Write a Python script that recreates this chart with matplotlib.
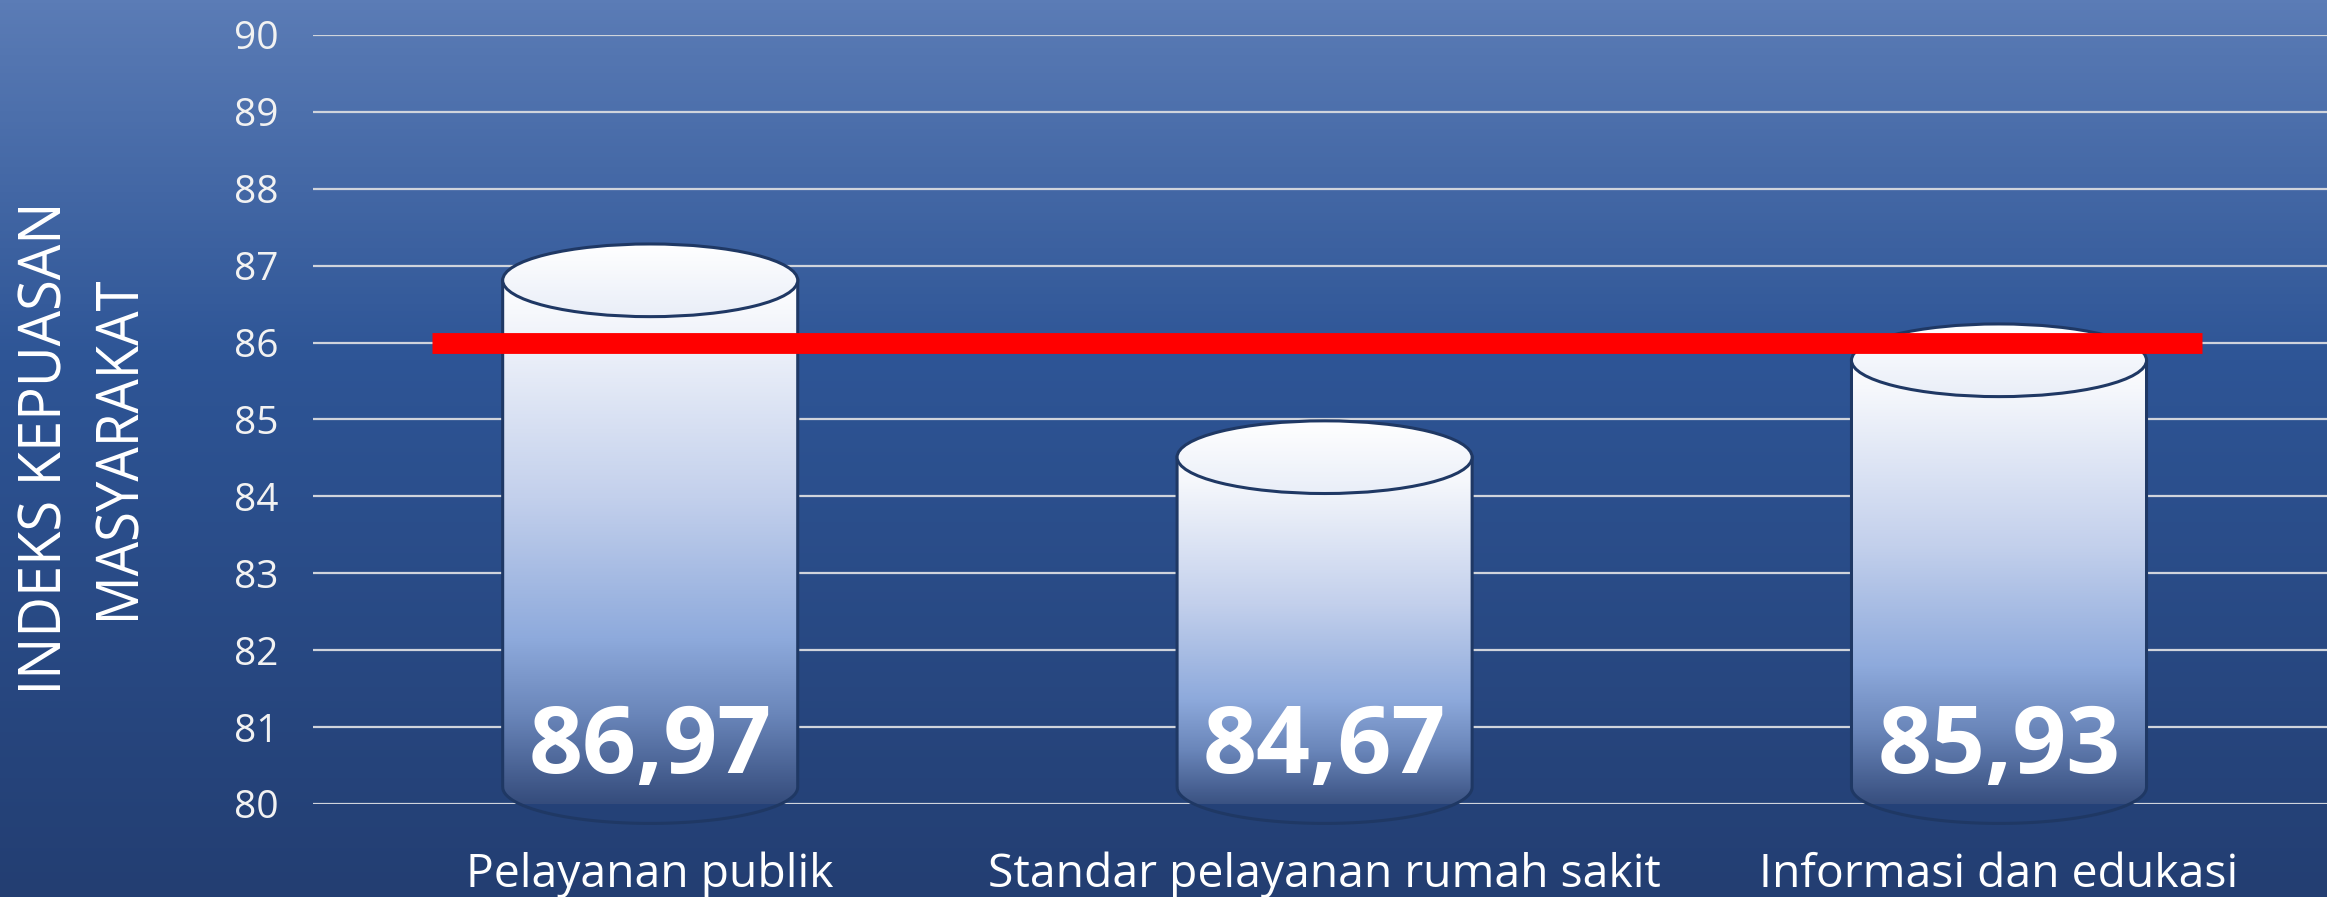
import numpy as np
import matplotlib.pyplot as plt
from matplotlib.colors import LinearSegmentedColormap
from matplotlib.patches import Ellipse, PathPatch
from matplotlib.path import Path
from matplotlib.textpath import TextPath
from matplotlib.font_manager import FontProperties
from matplotlib.transforms import blended_transform_factory, Affine2D, IdentityTransform

# data
categories = ['Pelayanan publik', 'Standar pelayanan rumah sakit', 'Informasi dan edukasi']
values = [86.97, 84.67, 85.93]
value_labels = ['86,97', '84,67', '85,93']
target = 86
y_ticks = list(range(80, 91))
y_title = ['INDEKS KEPUASAN', 'MASYARAKAT']

W, H = 2327, 897
fig = plt.figure(figsize=(W / 100, H / 100), dpi=100)

# background gradient
bg = fig.add_axes([0, 0, 1, 1], zorder=-10)
bg_cmap = LinearSegmentedColormap.from_list(
    'bg', [(0, '#5b7cb6'), (0.4, '#2e5596'), (1, '#233e72')])
bg.imshow(np.linspace(0, 1, 256).reshape(-1, 1), aspect='auto', cmap=bg_cmap,
          extent=[0, 1, 0, 1])
bg.set_axis_off()

ax = fig.add_axes([313 / W, 93 / H, 3 * 674.4 / W, 769 / H])
ax.set_facecolor('none')
for s in ax.spines.values():
    s.set_visible(False)

ymin, ymax = y_ticks[0], y_ticks[-1]
x = np.arange(len(categories))

body_cmap = LinearSegmentedColormap.from_list(
    'body', [(0, '#ffffff'), (0.4, '#c3d0ec'), (0.66, '#8eaadc'),
             (0.8, '#6a86ba'), (1, '#2a406f')])
top_cmap = LinearSegmentedColormap.from_list('top', ['#ffffff', '#e9eef8'])
grad = np.linspace(0, 1, 256).reshape(-1, 1)

half = 0.4375 / 2
ry = 0.945 / 2
edge = '#1f3864'

for i, v in zip(x, values):
    top_c = v - 0.16
    bot_c = ymin + 0.22
    t = np.linspace(np.pi, 2 * np.pi, 60)
    xs = list(i + half * np.cos(t)) + [i + half, i - half, i - half]
    ys = list(bot_c + ry * np.sin(t)) + [top_c, top_c, bot_c]
    body = PathPatch(Path(np.column_stack([xs, ys]), closed=False),
                     facecolor='none', edgecolor=edge, lw=2.2, zorder=3,
                     clip_on=False)
    ax.add_patch(body)
    im = ax.imshow(grad, aspect='auto', cmap=body_cmap, zorder=2,
                   extent=[i - half, i + half, bot_c - ry, top_c])
    im.set_clip_path(body)
    im.set_clip_box(None)

    top = Ellipse((i, top_c), 2 * half, 2 * ry, facecolor='none',
                  edgecolor=edge, lw=2.2, zorder=4)
    ax.add_patch(top)
    im2 = ax.imshow(grad, aspect='auto', cmap=top_cmap, zorder=3.5,
                    extent=[i - half, i + half, top_c - ry, top_c + ry])
    im2.set_clip_path(top)

# target line
ax.plot([x[0] - 0.3235, x[-1] + 0.301], [target, target], color='#ff0000',
        lw=15, solid_capstyle='butt', zorder=6)

# value labels
for i, lab in zip(x, value_labels):
    ax.text(i, ymin + 0.40, lab, ha='center', va='baseline', color='white',
            fontsize=68, fontweight='bold', family='Open Sans', zorder=7)

# category labels
tr = blended_transform_factory(ax.transData, fig.transFigure)
for i, c in zip(x, categories):
    ax.text(i, 10 / H, c, transform=tr, ha='center', va='baseline',
            color='white', fontsize=33.3, family='Open Sans')

ax.set_xlim(-0.5, 2.5)
ax.set_ylim(ymin, ymax)
ax.set_xticks([])
ax.set_yticks(y_ticks)
ax.tick_params(axis='y', length=0, pad=25, labelsize=28, labelcolor='#f2f2f2')
for lab in ax.get_yticklabels():
    lab.set_family('Open Sans')
ax.grid(axis='y', color='#d0d4dc', lw=1.6, zorder=0)
ax.set_axisbelow(True)

# condensed, rotated axis title (drawn as text paths, pixel units)
fp = FontProperties(family='Open Sans')
cap = 42           # cap height in px
lengths = [482, 338]
centers = [(39, H - 449), (117, H - 451)]
for line, length, (cx, cy) in zip(y_title, lengths, centers):
    tp = TextPath((0, 0), line, size=cap / 0.714, prop=fp)
    bb = tp.get_extents()
    sx = length / bb.width
    trf = (Affine2D().translate(-(bb.x0 + bb.x1) / 2, -cap / 2)
           .scale(sx, 1).rotate_deg(90).translate(cx, cy))
    fig.patches.append(PathPatch(trf.transform_path(tp), facecolor='white',
                                 edgecolor='none', transform=IdentityTransform(),
                                 figure=fig))

fig.savefig('out.png', dpi=100)
